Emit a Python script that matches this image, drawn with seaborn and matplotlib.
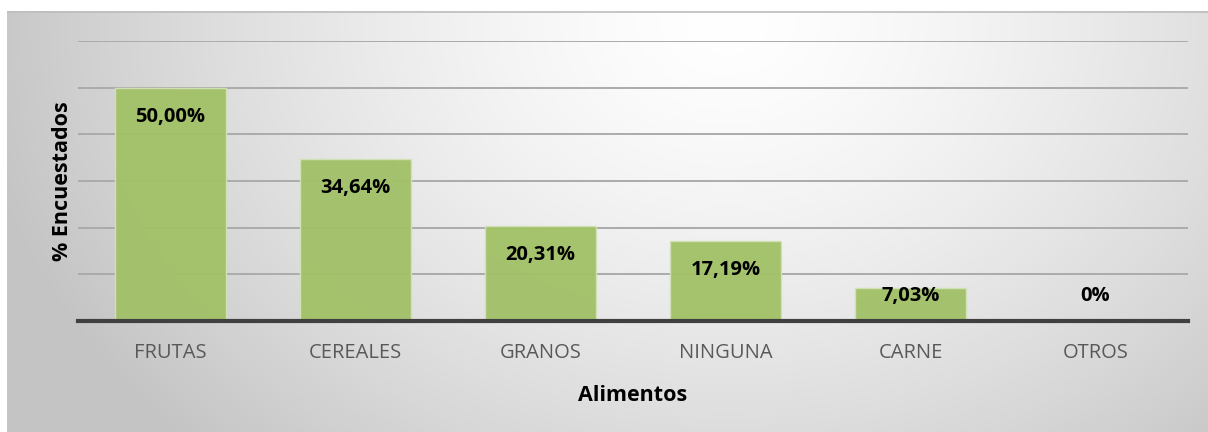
import numpy as np
import pandas as pd
import matplotlib
matplotlib.use("Agg")
import matplotlib.pyplot as plt
import seaborn as sns

# Survey results: share of respondents per food group
categories = ["FRUTAS", "CEREALES", "GRANOS", "NINGUNA", "CARNE", "OTROS"]
values = [50.00, 34.64, 20.31, 17.19, 7.03, 0.0]
labels = ["50,00%", "34,64%", "20,31%", "17,19%", "7,03%", "0%"]

df = pd.DataFrame({"Alimentos": categories, "pct": values})

sns.set_theme(style="white")
plt.rcParams["font.family"] = ["Open Sans", "DejaVu Sans"]

W, H = 1208, 432
fig = plt.figure(figsize=(W / 100, H / 100), dpi=100)
fig.patch.set_facecolor("white")

# Chart-area background: soft radial gradient, light near the top centre
bg_x0, bg_y0 = 7, 11
bg = fig.add_axes([bg_x0 / W, 0, 1 - bg_x0 / W, 1 - bg_y0 / H])
bw, bh = W - bg_x0, H - bg_y0
xx, yy = np.meshgrid(np.arange(bw), np.arange(bh))
t = np.sqrt(((xx - 720) / 760.0) ** 2 + ((yy - 10) / 600.0) ** 2)
shade = 1.0 - 0.23 * np.clip(t, 0, 1) ** 1.4
img = np.dstack([shade, shade, shade])
bg.imshow(img, aspect="auto", extent=[0, bw, bh, 0], interpolation="bilinear")
bg.axhline(0.6, color="#bdbdbd", lw=1.2)
bg.set_xlim(0, bw)
bg.set_ylim(bh, 0)
bg.axis("off")

# Plot area
left, right = 78, 1188
top, base = 41, 321
ax = fig.add_axes([left / W, 1 - base / H, (right - left) / W, (base - top) / H])
ax.patch.set_alpha(0)

sns.barplot(data=df, x="Alimentos", y="pct", ax=ax, width=0.6, saturation=1,
            color="#a2c168", alpha=0.96, edgecolor="#d3e2b6", linewidth=1.0,
            zorder=3)

ax.set_ylim(0, 60)
ax.set_xlim(-0.5, len(categories) - 0.5)
ax.set_yticks(np.arange(10, 61, 10))
ax.set_yticklabels([])
ax.tick_params(axis="y", length=0)
ax.tick_params(axis="x", length=0, pad=16, labelsize=14.5, labelcolor="#595959")
ax.yaxis.grid(True, color="#ababab", lw=1.4, zorder=1)
ax.set_axisbelow(True)
for s in ["top", "right", "left"]:
    ax.spines[s].set_visible(False)
ax.spines["bottom"].set_color("#404040")
ax.spines["bottom"].set_linewidth(3)
ax.spines["bottom"].set_zorder(5)

ax.set_xlabel("Alimentos", fontsize=15.5, fontweight="bold", color="black", labelpad=16)
ax.set_ylabel("% Encuestados", fontsize=15.5, fontweight="bold", color="black", labelpad=0)

# Value labels just inside the top of each bar
for i, (v, lab) in enumerate(zip(values, labels)):
    y = max(v - 6.2, 5.4)
    ax.text(i, y, lab, ha="center", va="center", fontsize=14.5,
            fontweight="bold", color="black", zorder=6)

fig.savefig("out.png", dpi=100, facecolor=fig.get_facecolor())
